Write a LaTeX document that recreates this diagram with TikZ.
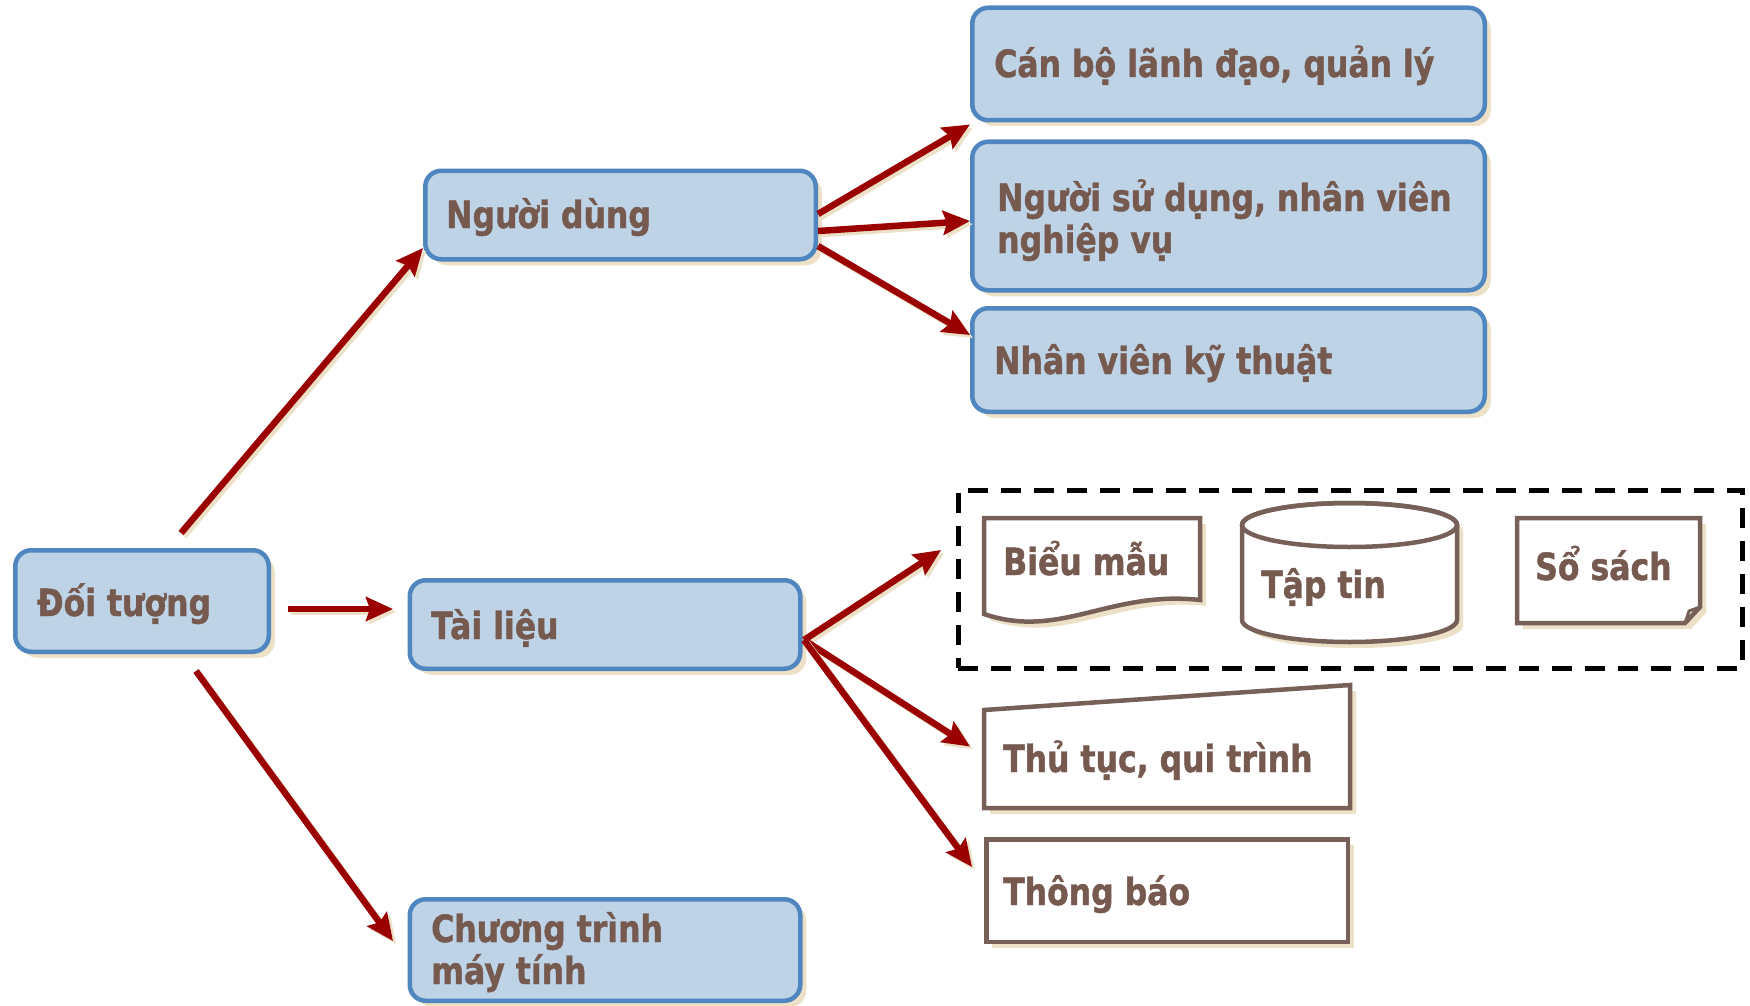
\documentclass[tikz,border=0pt]{standalone}
\usepackage{fontspec}
\setmainfont{DejaVu Sans}[FakeStretch=0.84,BoldFeatures={FakeBold=1.2}]
\usetikzlibrary{arrows.meta,shadows}

\definecolor{boxfill}{RGB}{190,211,230}
\definecolor{boxline}{RGB}{79,134,191}
\definecolor{shadetan}{RGB}{236,224,198}
\definecolor{linkred}{RGB}{155,0,0}
\definecolor{inkbrown}{RGB}{118,90,80}
\definecolor{docline}{RGB}{118,96,88}

\begin{document}
\begin{tikzpicture}[x=1pt,y=-1pt,
  tanshadow/.style={drop shadow={shadow xshift=6pt,shadow yshift=-6pt,fill=shadetan,opacity=1}},
  bluebox/.style={draw=boxline,fill=boxfill,line width=4.5pt,rounded corners=16pt,
    inner sep=0pt,tanshadow},
  docshape/.style={draw=docline,fill=white,line width=4.5pt,line join=miter,tanshadow},
  frame/.style={draw=black,line width=5pt,dash pattern=on 20pt off 13pt,inner sep=0pt},
  holder/.style={inner sep=0pt,outer sep=0pt},
  label/.style={font=\fontsize{37.5}{42}\selectfont\bfseries,text=inkbrown,
    inner sep=0pt,anchor=base west,align=left},
  conn/.style={draw=linkred,line width=6.5pt,
    -{Stealth[length=27pt,width=24pt,inset=4pt]},
    preaction={draw=shadetan,line width=6.5pt,transform canvas={shift={(3pt,-3pt)}}}}
]
\useasboundingbox (0,0) rectangle (1750,1006);

% rounded blue boxes
\node[bluebox,minimum width=253.5pt,minimum height=101.5pt] (doi) at (142,601) {};
\node[bluebox,minimum width=390.5pt,minimum height=88.5pt]  (nd)  at (620.5,215) {};
\node[bluebox,minimum width=390.5pt,minimum height=88.5pt]  (tl)  at (605,624.5) {};
\node[bluebox,minimum width=390.5pt,minimum height=101.5pt] (ct)  at (605,950) {};
\node[bluebox,minimum width=512.5pt,minimum height=112.5pt] (cb)  at (1228.5,64) {};
\node[bluebox,minimum width=512.5pt,minimum height=148.5pt] (ns)  at (1228.5,216) {};
\node[bluebox,minimum width=512.5pt,minimum height=103.5pt] (nv)  at (1228.5,360) {};

% dashed frame round the three document kinds
\node[frame,minimum width=784pt,minimum height=178pt] (grp) at (1350,579) {};

% document with wavy bottom
\node[holder,minimum width=216pt,minimum height=107pt] (bm) at (1092,571.5) {};
\draw[docshape] (984,518) -- (1200,518) -- (1200,600)
  .. controls (1110,590) and (1060,640) .. (984,614) -- cycle;

% cylinder (data file)
\node[holder,minimum width=215pt,minimum height=141pt] (tp) at (1349.5,573.5) {};
\draw[docshape] (1242,525) -- (1242,620)
  arc[start angle=180,end angle=0,x radius=107.5,y radius=22]
  -- (1457,525)
  arc[start angle=0,end angle=-180,x radius=107.5,y radius=22] -- cycle;
\draw[draw=docline,line width=4.5pt] (1349.5,525) ellipse[x radius=107.5,y radius=22];

% sheet with folded corner
\node[holder,minimum width=183pt,minimum height=105pt] (ss) at (1608.5,570.5) {};
\draw[docshape] (1517,518) -- (1700,518) -- (1700,607) -- (1685,623) -- (1517,623) -- cycle;
\draw[draw=docline,line width=3pt,line join=round] (1685,623) -- (1689,611) -- (1700,607);

% manual input shape
\node[holder,minimum width=366pt,minimum height=123pt] (tt) at (1167,746.5) {};
\draw[docshape] (tt.south west) -- ([yshift=-25pt]tt.north west)
  -- (tt.north east) -- (tt.south east) -- cycle;

% plain rectangle
\node[docshape,inner sep=0pt,minimum width=361.5pt,minimum height=102.5pt] (tb) at (1167,890.5) {};

% labels (multi-line ones are placed by the baseline of their last line)
\node[label] (doi-t) at (37,616)   {Đối tượng};
\node[label] (nd-t)  at (446,228)  {Người dùng};
\node[label] (tl-t)  at (431,639)  {Tài liệu};
\node[label] (ct-t)  at (431,984)  {Chương trình\\máy tính};
\node[label] (cb-t)  at (994,77)   {Cán bộ lãnh đạo, quản lý};
\node[label] (ns-t)  at (997,253)  {\mbox{Người sử dụng, nhân viên}\\nghiệp vụ};
\node[label] (nv-t)  at (994,374)  {Nhân viên kỹ thuật};
\node[label] (bm-t)  at (1003,575) {Biểu mẫu};
\node[label] (tp-t)  at (1261,598) {Tập tin};
\node[label] (ss-t)  at (1535,580) {Sổ sách};
\node[label] (tt-t)  at (1003,772) {Thủ tục, qui trình};
\node[label] (tb-t)  at (1003,905) {Thông báo};

% connectors
\draw[conn] ([xshift=39pt,yshift=15pt]doi.north) -- ([yshift=-33pt]nd.west);
\draw[conn] ([xshift=17pt,yshift=-8pt]doi.east) -- ([xshift=-14.5pt,yshift=15.5pt]tl.west);
\draw[conn] ([xshift=54pt,yshift=-17pt]doi.south) -- ([xshift=-14.5pt,yshift=9pt]ct.west);
\draw[conn] ([yshift=1pt]nd.east) -- ([yshift=-2pt]cb.south west);
\draw[conn] ([yshift=-16pt]nd.east) -- ([yshift=-5pt]ns.west);
\draw[conn] ([yshift=-31pt]nd.east) -- ([yshift=25pt]nv.west);
\draw[conn] ([xshift=1.5pt,yshift=-15.5pt]tl.east) -- ([xshift=-14.4pt,yshift=29pt]grp.west);
\draw[conn] ([xshift=1.5pt,yshift=-15.5pt]tl.east) -- ([xshift=-14pt]tt.west);
\draw[conn] ([xshift=1.5pt,yshift=-15.5pt]tl.east) -- ([xshift=-12pt,yshift=23.5pt]tb.west);
\end{tikzpicture}
\end{document}
